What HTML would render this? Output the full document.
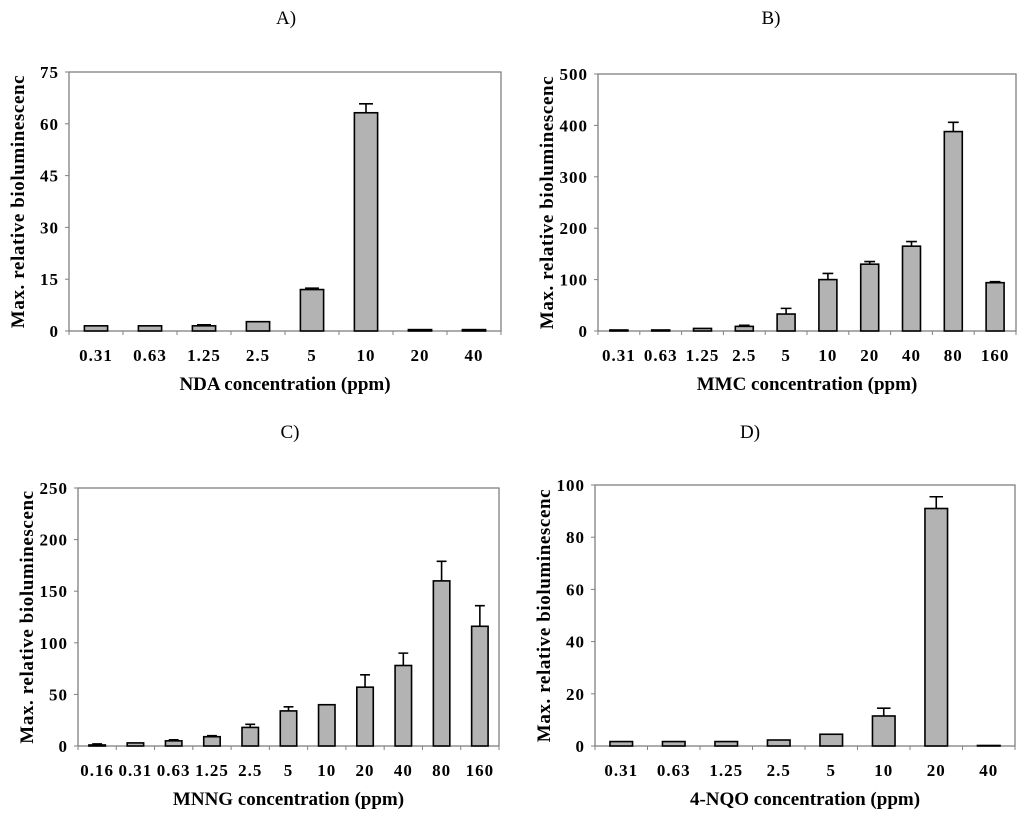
<!DOCTYPE html>
<html><head><meta charset="utf-8">
<style>
html,body{margin:0;padding:0;background:#fff;}
svg{display:block;font-family:"Liberation Serif",serif;font-weight:bold;}
</style></head>
<body>
<svg id="fig" width="1024" height="815" viewBox="0 0 1024 815" xmlns="http://www.w3.org/2000/svg"></svg>
<script>
// Panel A data
const catsA = ["0.31","0.63","1.25","2.5","5","10","20","40"];
const valsA = [1.5,1.5,1.5,2.7,12,63.2,0.4,0.4];
const errsA = [0,0,0.3,0,0.4,2.6,0,0];
const ticksA = [0,15,30,45,60,75];
// Panel B data
const catsB = ["0.31","0.63","1.25","2.5","5","10","20","40","80","160"];
const valsB = [2,2,5,9,33,100,130,165,388,94];
const errsB = [0,0,0,2,11,12,5,9,18,2];
const ticksB = [0,100,200,300,400,500];
// Panel C data
const catsC = ["0.16","0.31","0.63","1.25","2.5","5","10","20","40","80","160"];
const valsC = [1,3,5,9,18,34,40,57,78,160,116];
const errsC = [1,0,1,1,3,4,0,12,12,19,20];
const ticksC = [0,50,100,150,200,250];
// Panel D data
const catsD = ["0.31","0.63","1.25","2.5","5","10","20","40"];
const valsD = [1.7,1.7,1.7,2.3,4.5,11.5,91,0.2];
const errsD = [0,0,0,0,0,3,4.5,0];
const ticksD = [0,20,40,60,80,100];

const NS = "http://www.w3.org/2000/svg";
const svg = document.getElementById('fig');
function mk(tag, attrs, parent){
  const e = document.createElementNS(NS, tag);
  for (const k in attrs) e.setAttribute(k, attrs[k]);
  (parent||svg).appendChild(e);
  return e;
}

function panel(id, title, titleX, titleY, box, cats, vals, errs, ticks, xTitle, xLabY, xTitleY){
  const g = mk('g', {});
  
  
  const [L, T, R, B] = box;
  const ymax = ticks[ticks.length-1];
  const y = v => B - (v / ymax) * (B - T);
  const step = (R - L) / cats.length;
  const xc = i => L + step * (i + 0.5);
  const t = mk('text', {x: titleX, y: titleY, 'text-anchor': 'middle', 'font-size': 19, 'font-weight': 'normal'}, g);
  t.textContent = title;
  
  
  const frame = mk('rect', {x: L, y: T, width: R - L, height: B - T, fill: 'none', stroke: '#808080', 'stroke-width': 1.3}, g);
  
  
  ticks.forEach(tv => {
    const tl = mk('text', {x: L - 10, y: y(tv) + 6, 'text-anchor': 'end', 'font-size': 17, 'letter-spacing': 1}, g);
    tl.textContent = tv;
    
    
    mk('line', {x1: L - 4, x2: L, y1: y(tv), y2: y(tv), stroke: '#808080'}, g);
  });
  for (let i = 0; i <= cats.length; i++) {
    mk('line', {x1: L + step * i, x2: L + step * i, y1: B, y2: B + 4, stroke: '#808080'}, g);
  }
  const bw = step * 0.43;
  cats.forEach((c, i) => {
    const v = vals[i];
    const bar = mk('rect', {x: xc(i) - bw / 2, y: y(v), width: bw, height: Math.max(B - y(v), 0.5), fill: '#b3b3b3', stroke: '#000', 'stroke-width': 1.6}, g);
    
    
    if (errs[i] > 0) {
      const cw = bw * 0.3;
      const eb = mk('path', {d: `M${xc(i)},${y(v)}V${y(v + errs[i])}M${xc(i) - cw},${y(v + errs[i])}H${xc(i) + cw}`, stroke: '#000', 'stroke-width': 1.6, fill: 'none'}, g);
      
      
    }
    const xl = mk('text', {x: xc(i), y: xLabY, 'text-anchor': 'middle', 'font-size': 17, 'letter-spacing': 1}, g);
    xl.textContent = c;
    
    
  });
  const xt = mk('text', {x: (L + R) / 2, y: xTitleY, 'text-anchor': 'middle', 'font-size': 19}, g);
  xt.textContent = xTitle;
  
  
  const yx = L - 45, ym = (T + B) / 2;
  const yt = mk('text', {x: yx, y: ym, 'text-anchor': 'middle', 'font-size': 19, 'letter-spacing': 0.6, transform: `rotate(-90 ${yx} ${ym})`}, g);
  yt.textContent = 'Max. relative bioluminescenc';
  
  
}

panel('a', 'A)', 286, 24, [69, 72, 501, 331], catsA, valsA, errsA, ticksA, 'NDA concentration (ppm)', 361, 390);
panel('b', 'B)', 771, 24, [598, 74, 1016, 331], catsB, valsB, errsB, ticksB, 'MMC concentration (ppm)', 361, 390);
panel('c', 'C)', 290, 438, [78, 488, 499, 746], catsC, valsC, errsC, ticksC, 'MNNG concentration (ppm)', 776, 805);
panel('d', 'D)', 750, 438, [595, 485, 1015, 746], catsD, valsD, errsD, ticksD, '4-NQO concentration (ppm)', 776, 805);
</script>
</body></html>
